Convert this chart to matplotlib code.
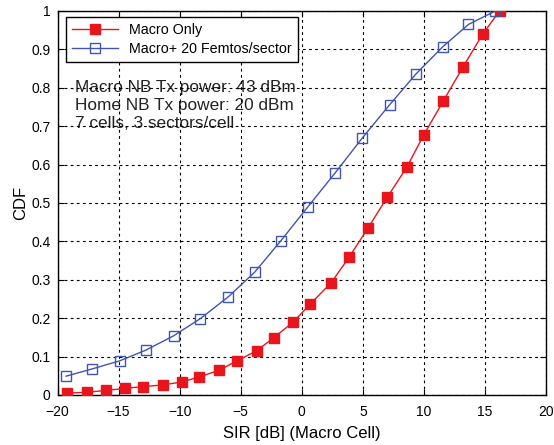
import matplotlib
matplotlib.use("Agg")
import matplotlib.pyplot as plt

# Data
macro_x = [-19.2, -17.6, -16.0, -14.5, -13.0, -11.4, -9.8, -8.4, -6.8, -5.3, -3.7, -2.3,
           -0.7, 0.7, 2.4, 3.9, 5.45, 7.0, 8.6, 10.0, 11.6, 13.2, 14.8, 16.2]
macro_y = [0.005, 0.007, 0.012, 0.017, 0.022, 0.026, 0.034, 0.047, 0.064, 0.089, 0.115, 0.149,
           0.19, 0.237, 0.292, 0.36, 0.436, 0.515, 0.593, 0.678, 0.766, 0.854, 0.939, 1.0]
femto_x = [-19.3, -17.15, -14.9, -12.75, -10.5, -8.3, -6.0, -3.85, -1.7, 0.5, 2.75, 4.95,
           7.2, 9.35, 11.55, 13.65, 15.85]
femto_y = [0.049, 0.068, 0.089, 0.117, 0.154, 0.199, 0.256, 0.32, 0.402, 0.49, 0.579, 0.669,
           0.756, 0.836, 0.907, 0.965, 1.0]
series_labels = ["Macro Only", "Macro+ 20 Femtos/sector"]
annotation_lines = ["Macro NB Tx power: 43 dBm", "Home NB Tx power: 20 dBm", "7 cells, 3 sectors/cell"]
xticks = [-20, -15, -10, -5, 0, 5, 10, 15, 20]
yticks = [0, 0.1, 0.2, 0.3, 0.4, 0.5, 0.6, 0.7, 0.8, 0.9, 1]
ytick_labels = ["0", "0.1", "0.2", "0.3", "0.4", "0.5", "0.6", "0.7", "0.8", "0.9", "1"]

plt.rcParams['font.family'] = ['Liberation Sans', 'DejaVu Sans']

fig = plt.figure(figsize=(5.54, 4.45), dpi=100)
ax = fig.add_axes([0.1038, 0.1124, 0.8818, 0.8629])

red = '#e8161c'
blue = '#4055b0'
ax.plot(macro_x, macro_y, '-', color=red, lw=1.0, marker='s', ms=7,
        mfc=red, mec=red, label=series_labels[0], zorder=3)
ax.plot(femto_x, femto_y, '-', color=blue, lw=1.0, marker='s', ms=7.5,
        mfc='none', mec=blue, mew=1.0, label=series_labels[1], zorder=3)

ax.set_xlim(-20, 20)
ax.set_ylim(0, 1)
ax.set_xticks(xticks)
ax.set_yticks(yticks)
ax.set_yticklabels(ytick_labels)
ax.tick_params(direction='in', top=True, right=True, labelsize=10, length=4, width=0.8)
ax.tick_params(axis='x', pad=7)
ax.tick_params(axis='y', pad=5)
ax.grid(True, color='black', linestyle=(0, (2.5, 3)), lw=0.8)
for s in ax.spines.values():
    s.set_linewidth(1.0)

ax.set_xlabel("SIR [dB] (Macro Cell)", fontsize=12, labelpad=5)
ax.set_ylabel("CDF", fontsize=12, labelpad=2)

ys = [0.80, 0.753, 0.706]
for t, y in zip(annotation_lines, ys):
    ax.text(-18.6, y, t, fontsize=12.4, va='center', ha='left', color='#222222', zorder=1)

leg = ax.legend(loc='upper left', bbox_to_anchor=(0.012, 0.992), fontsize=10.3,
                frameon=True, fancybox=False, edgecolor='black', framealpha=1,
                borderpad=0.4, handlelength=3.2, labelspacing=0.4, borderaxespad=0.2)
leg.get_frame().set_linewidth(1.0)

fig.savefig("out.png", dpi=100)
